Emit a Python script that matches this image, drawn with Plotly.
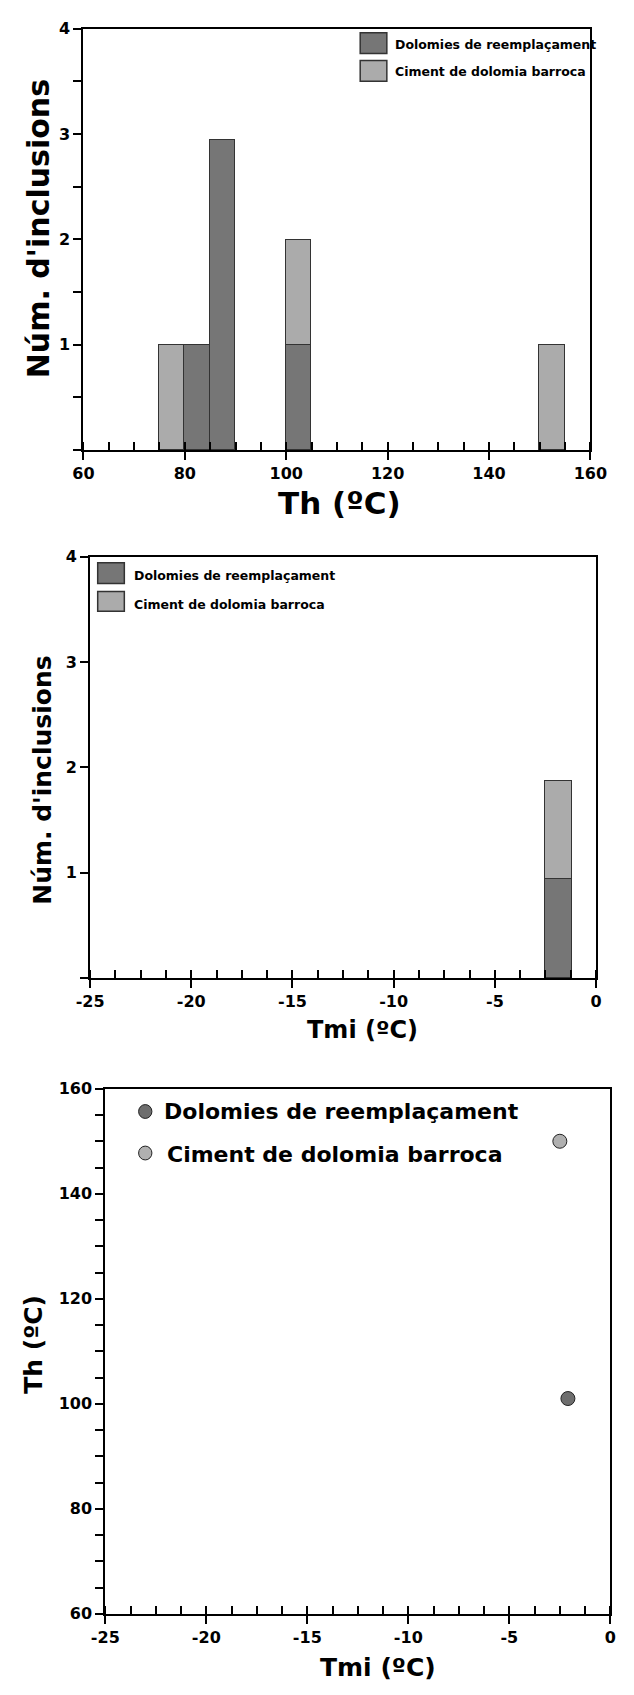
import plotly.graph_objects as go

# ---------------- data ----------------
th_bin_width = 5
th_dark_bins = [82.5, 87.5, 102.5]
th_dark_counts = [1, 2.95, 1]
th_light_bins = [77.5, 102.5, 152.5]
th_light_counts = [1, 1, 1]

tmi_bin_width = 1.3
tmi_dark_bins = [-1.85]
tmi_dark_counts = [0.94]
tmi_light_bins = [-1.85]
tmi_light_counts = [0.93]

sc_dark_tmi = [-2.1]
sc_dark_th = [101]
sc_light_tmi = [-2.5]
sc_light_th = [150]

th_ticks = [60, 80, 100, 120, 140, 160]
count_ticks = [0, 1, 2, 3, 4]
count_ticktext = ["", "1", "2", "3", "4"]
tmi_ticks = [-25, -20, -15, -10, -5, 0]
tmi_ticktext = ["-25", "-20", "-15", "-10", "-5", "0"]

series_names = ["Dolomies de reemplaçament", "Ciment de dolomia barroca"]
dark_col = "#767676"
light_col = "#ababab"
edge_col = "#333333"

W, H = 634, 1695
FONT = "DejaVu Sans"


def px(x):
    return x / W


def py(y):
    return 1 - y / H


fig = go.Figure()

bar_line = dict(color=edge_col, width=1)
fig.add_trace(go.Bar(x=th_dark_bins, y=th_dark_counts, width=th_bin_width,
                     marker=dict(color=dark_col, line=bar_line),
                     name=series_names[0], xaxis="x", yaxis="y"))
fig.add_trace(go.Bar(x=th_light_bins, y=th_light_counts, width=th_bin_width,
                     marker=dict(color=light_col, line=bar_line),
                     name=series_names[1], xaxis="x", yaxis="y"))
fig.add_trace(go.Bar(x=tmi_dark_bins, y=tmi_dark_counts, width=tmi_bin_width,
                     marker=dict(color=dark_col, line=bar_line),
                     name=series_names[0], xaxis="x2", yaxis="y2"))
fig.add_trace(go.Bar(x=tmi_light_bins, y=tmi_light_counts, width=tmi_bin_width,
                     marker=dict(color=light_col, line=bar_line),
                     name=series_names[1], xaxis="x2", yaxis="y2"))
fig.add_trace(go.Scatter(x=sc_dark_tmi, y=sc_dark_th, mode="markers",
                         marker=dict(size=14, color="#6e6e6e", line=dict(color="#222", width=1)),
                         name=series_names[0], xaxis="x3", yaxis="y3"))
fig.add_trace(go.Scatter(x=sc_light_tmi, y=sc_light_th, mode="markers",
                         marker=dict(size=14, color="#b0b0b0", line=dict(color="#222", width=1)),
                         name=series_names[1], xaxis="x3", yaxis="y3"))

tickfont = dict(family=FONT, size=16, color="black", weight="bold")
common = dict(showline=True, linecolor="black", linewidth=2, mirror=True,
              ticks="outside", ticklen=8, tickwidth=1.5, tickcolor="black",
              showgrid=False, zeroline=False, tickfont=tickfont, fixedrange=True)
minor_in = lambda d: dict(dtick=d, ticks="inside", ticklen=8, tickwidth=1.5, tickcolor="black")
minor_out = lambda d: dict(dtick=d, ticks="outside", ticklen=8, tickwidth=1.5, tickcolor="black")

fig.update_layout(
    width=W, height=H,
    margin=dict(l=0, r=0, t=0, b=0),
    paper_bgcolor="white", plot_bgcolor="white",
    barmode="stack", bargap=0,
    showlegend=False,
    xaxis=dict(domain=[px(73), px(606)], anchor="y", range=[60, 160],
               tickvals=th_ticks, minor=minor_in(5), **common),
    yaxis=dict(domain=[py(446), py(20)], anchor="x", range=[0, 4],
               tickvals=count_ticks, ticktext=count_ticktext, minor=minor_out(0.5), **common),
    xaxis2=dict(domain=[px(80), px(612)], anchor="y2", range=[-25, 0],
                tickvals=tmi_ticks, ticktext=tmi_ticktext, minor=minor_in(1.25), **common),
    yaxis2=dict(domain=[py(980), py(554)], anchor="x2", range=[0, 4],
                tickvals=count_ticks, ticktext=count_ticktext, **common),
    xaxis3=dict(domain=[px(96), px(627)], anchor="y3", range=[-25, 0],
                tickvals=tmi_ticks, ticktext=tmi_ticktext, minor=minor_in(1.25), **common),
    yaxis3=dict(domain=[py(1623), py(1092)], anchor="x3", range=[60, 160],
                tickvals=th_ticks, minor=minor_out(5), **common),
)

shapes = []
annots = []


def title(text, x, y, size, angle=0):
    annots.append(dict(text=text, x=px(x), y=py(y), xref="paper", yref="paper",
                       showarrow=False, textangle=angle, xanchor="center", yanchor="middle",
                       font=dict(family=FONT, size=size, color="black", weight="bold")))


title("Th (ºC)", 342, 500, 31)
title("Núm. d'inclusions", 26, 222, 30, -90)
title("Tmi (ºC)", 366, 1033, 24)
title("Núm. d'inclusions", 30, 780, 25, -90)
title("Tmi (ºC)", 383, 1677, 25)
title("Th (ºC)", 21, 1350, 25, -90)


def bar_legend(x0, x1, ys, tx, tys, size):
    cols = [dark_col, light_col]
    for (ya, yb), ty, c, name in zip(ys, tys, cols, series_names):
        shapes.append(dict(type="rect", xref="paper", yref="paper",
                           x0=px(x0), x1=px(x1), y0=py(yb), y1=py(ya),
                           fillcolor=c, line=dict(color=edge_col, width=1.5)))
        annots.append(dict(text=name, x=px(tx), y=py(ty), xref="paper", yref="paper",
                           showarrow=False, xanchor="left", yanchor="middle",
                           font=dict(family=FONT, size=size, color="black", weight="bold")))


bar_legend(364, 392, [(24, 45), (52, 73)], 399, [36, 63], 12.5)
bar_legend(88, 116, [(560, 581), (589, 609)], 124, [573, 602], 12.5)

for cy, ty, tx, c, name in zip([1115, 1157], [1115, 1158], [156, 159],
                               ["#6e6e6e", "#b0b0b0"], series_names):
    shapes.append(dict(type="circle", xref="paper", yref="paper",
                       x0=px(138 - 7), x1=px(138 + 7), y0=py(cy + 7), y1=py(cy - 7),
                       fillcolor=c, line=dict(color="#222", width=1)))
    annots.append(dict(text=name, x=px(tx), y=py(ty), xref="paper", yref="paper",
                       showarrow=False, xanchor="left", yanchor="middle",
                       font=dict(family=FONT, size=22, color="black", weight="bold")))

fig.update_layout(shapes=shapes, annotations=annots)
fig.write_html("out.html")
